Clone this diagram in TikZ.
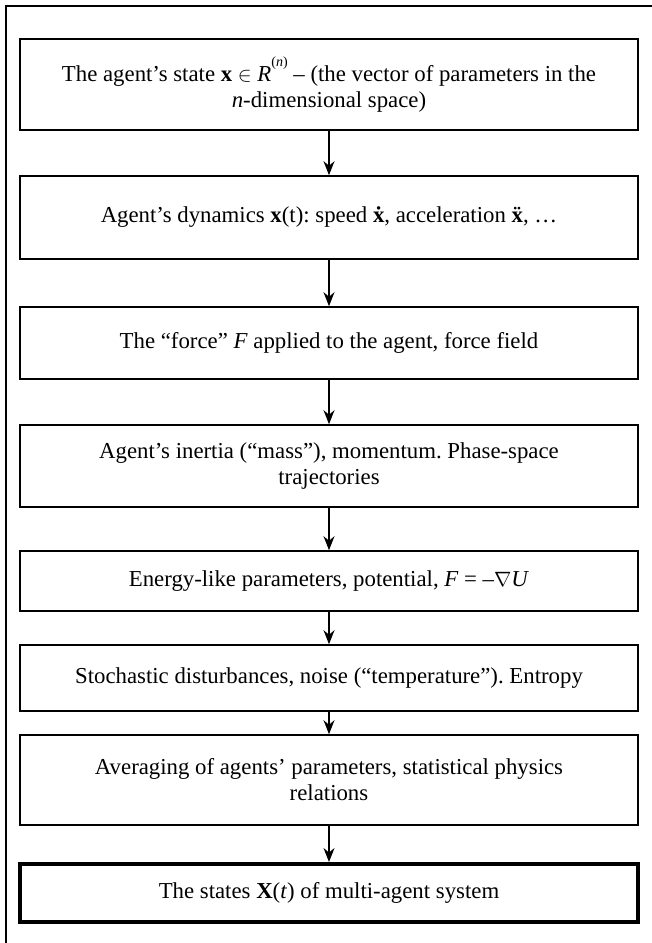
\documentclass[tikz,border=0pt]{standalone}
\usepackage{fontspec}
\setmainfont{Liberation Serif}
\usetikzlibrary{arrows.meta}
\frenchspacing

\newcommand{\supn}{\raisebox{0.62em}{\fontsize{14}{14}\selectfont(\textit{n})}}

\tikzset{
  stage/.style={draw=black, line width=1.6pt, minimum width=618pt, align=center,
    font=\fontsize{22.8}{26}\selectfont, inner sep=0pt, fill=white},
  finalstage/.style={stage, line width=4pt},
  flow/.style={draw=black, line width=1.5pt, -{Stealth[length=14pt,width=11pt]}},
  frame/.style={line width=2.8pt}
}

\begin{document}
\begin{tikzpicture}[x=1pt, y=-1pt]
  \useasboundingbox (0,0) rectangle (652,943);

  % page frame: top and left rules
  \coordinate (ftop) at (652,6);
  \coordinate (fcorner) at (6,6);
  \coordinate (fbottom) at (6,943);
  \draw[frame] (ftop) -- (fcorner) -- (fbottom);

  % the chain of stages
  \node[stage, minimum height=91pt] (b1) at (329,84.5)
    {The agent's state \textbf{x} $\in$ \textit{R}\supn\ -- (the vector of parameters in the\\
     \textit{n}-dimensional space)};
  \node[stage, minimum height=83pt] (b2) at (329,217.5)
    {Agent's dynamics \textbf{x}(t): speed \textbf{ẋ}, acceleration \textbf{ẍ}, …};
  \node[stage, minimum height=72pt] (b3) at (329,343)
    {The ``force'' \textit{F} applied to the agent, force field};
  \node[stage, minimum height=82pt] (b4) at (329,466)
    {Agent's inertia (``mass''), momentum. Phase-space\\ trajectories};
  \node[stage, minimum height=60pt] (b5) at (329,581)
    {Energy-like parameters, potential, \textit{F} = --$\nabla$\textit{U}};
  \node[stage, minimum height=66pt] (b6) at (329,678)
    {Stochastic disturbances, noise (``temperature''). Entropy};
  \node[stage, minimum height=90pt] (b7) at (329,780)
    {Averaging of agents' parameters, statistical physics\\ relations};
  \node[finalstage, minimum height=58pt] (b8) at (329,893)
    {The states \textbf{X}(\textit{t}) of multi-agent system};

  % connectors
  \foreach \a/\b in {b1/b2, b2/b3, b3/b4, b4/b5, b5/b6, b6/b7, b7/b8}
    \draw[flow] (\a.south) -- (\b.north);
\end{tikzpicture}
\end{document}
